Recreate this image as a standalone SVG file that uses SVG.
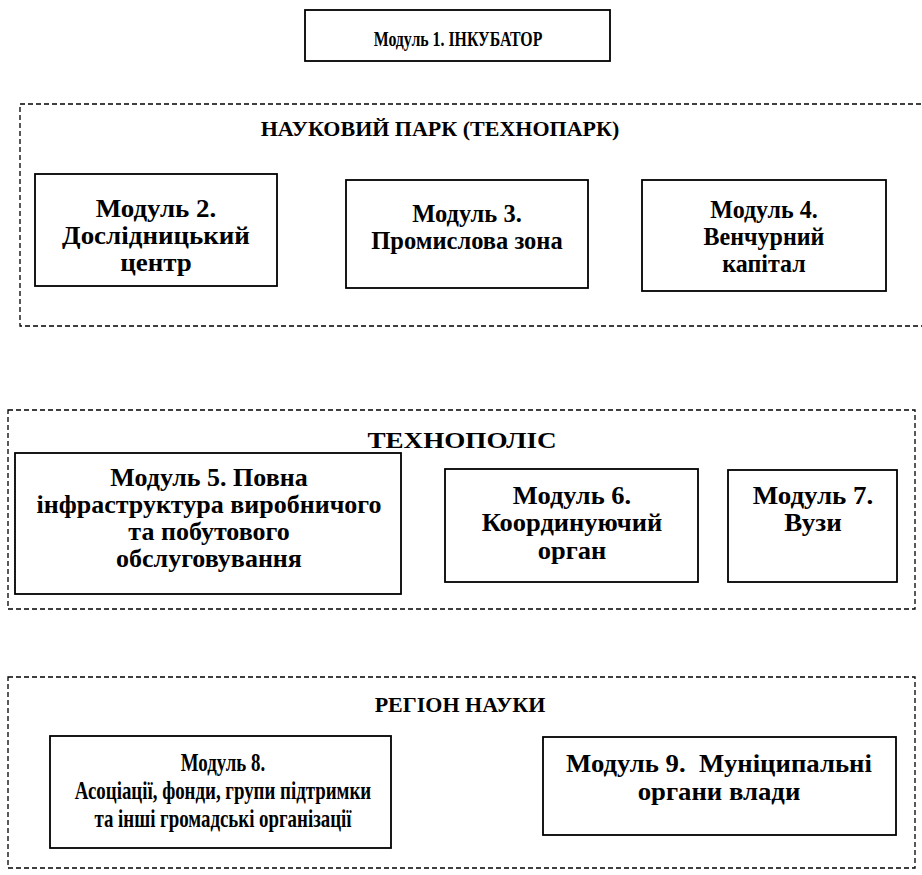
<svg xmlns="http://www.w3.org/2000/svg" width="922" height="875" viewBox="0 0 922 875">
  <style>
    .box { fill: #fff; stroke: #000; stroke-width: 1.8; }
    .zone { fill: none; stroke: #000; stroke-width: 1.3; stroke-dasharray: 5 3; }
    text { font-family: "Liberation Serif", "Times New Roman", serif; font-weight: bold; font-size: 25px; fill: #000; text-anchor: middle; }
    .ttl { font-size: 22px; }
    .ttl2 { font-size: 23px; }
    .top { font-size: 22px; }
  </style>
  <rect width="922" height="875" fill="#fff"/>

  <g id="module1">
    <rect class="box" x="305" y="10" width="305" height="51"/>
    <g transform="translate(458 0) scale(0.72 1) translate(-458 0)">
      <text class="top" x="458" y="46">Модуль 1. ІНКУБАТОР</text>
    </g>
  </g>

  <g id="science-park">
    <rect class="zone" x="20" y="104" width="910" height="222"/>
    <text class="ttl" x="440" y="136">НАУКОВИЙ ПАРК (ТЕХНОПАРК)</text>
  </g>
  <g id="module2">
    <rect class="box" x="35" y="174" width="242" height="112"/>
    <g transform="translate(156 0) scale(1.08 1) translate(-156 0)">
      <text x="156" y="217">Модуль 2.</text>
      <text x="156" y="244">Дослідницький</text>
      <text x="156" y="271">центр</text>
    </g>
  </g>
  <g id="module3">
    <rect class="box" x="346" y="180" width="242" height="108"/>
    <g transform="translate(467 0) scale(0.98 1) translate(-467 0)">
      <text x="467" y="222">Модуль 3.</text>
      <text x="467" y="249">Промислова зона</text>
    </g>
  </g>
  <g id="module4">
    <rect class="box" x="642" y="180" width="244" height="111"/>
    <g transform="translate(764 0) scale(0.96 1) translate(-764 0)">
      <text x="764" y="218">Модуль 4.</text>
      <text x="764" y="245">Венчурний</text>
      <text x="764" y="272">капітал</text>
    </g>
  </g>

  <g id="technopolis">
    <rect class="zone" x="8" y="410" width="907" height="199"/>
    <g transform="translate(462 0) scale(1.18 1) translate(-462 0)">
      <text class="ttl2" x="462" y="448">ТЕХНОПОЛІС</text>
    </g>
  </g>
  <g id="module5">
    <rect class="box" x="15" y="453" width="386" height="141"/>
    <g transform="translate(209 0) scale(1.04 1) translate(-209 0)">
      <text x="209" y="486">Модуль 5. Повна</text>
      <text x="209" y="513">інфраструктура виробничого</text>
      <text x="209" y="540">та побутового</text>
      <text x="209" y="567">обслуговування</text>
    </g>
  </g>
  <g id="module6">
    <rect class="box" x="445" y="469" width="253" height="113"/>
    <g transform="translate(572 0) scale(1.06 1) translate(-572 0)">
      <text x="572" y="504">Модуль 6.</text>
      <text x="572" y="531">Координуючий</text>
      <text x="572" y="559">орган</text>
    </g>
  </g>
  <g id="module7">
    <rect class="box" x="728" y="470" width="169" height="112"/>
    <g transform="translate(813 0) scale(1.08 1) translate(-813 0)">
      <text x="813" y="504">Модуль 7.</text>
      <text x="813" y="531">Вузи</text>
    </g>
  </g>

  <g id="science-region">
    <rect class="zone" x="8" y="677" width="907" height="191"/>
    <text class="ttl" x="460" y="712">РЕГІОН НАУКИ</text>
  </g>
  <g id="module8">
    <rect class="box" x="50" y="736" width="341" height="112"/>
    <g transform="translate(223 0) scale(0.755 1) translate(-223 0)">
      <text x="223" y="771">Модуль 8.</text>
      <text x="223" y="799">Асоціації, фонди, групи підтримки</text>
      <text x="223" y="827">та інші громадські організації</text>
    </g>
  </g>
  <g id="module9">
    <rect class="box" x="543" y="737" width="353" height="98"/>
    <g transform="translate(719 0) scale(1.07 1) translate(-719 0)">
      <text x="719" y="772" xml:space="preserve">Модуль 9.  Муніципальні</text>
      <text x="719" y="800">органи влади</text>
    </g>
  </g>

  <g id="connectors"></g>
</svg>
